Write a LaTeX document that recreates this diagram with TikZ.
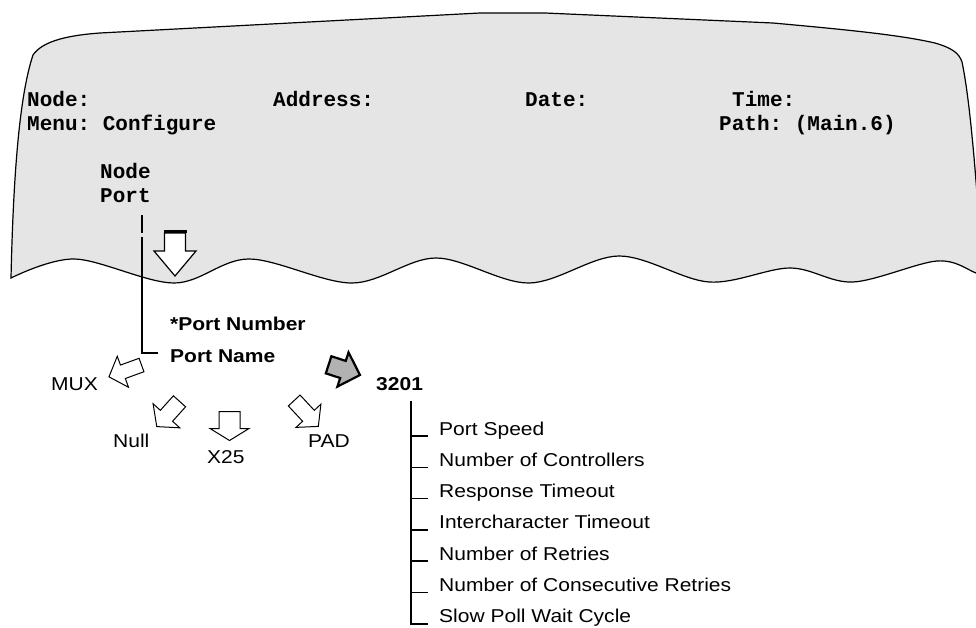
\documentclass[tikz,border=0pt]{standalone}
\usepackage{fontspec}
\setmainfont{Liberation Sans}
\newfontfamily\scrfont{Liberation Mono}
\newfontfamily\lblfont[FakeStretch=1.13]{Liberation Sans}
\usetikzlibrary{calc}
\newcommand\blockarr[8]{%
  \begin{scope}[shift={(#1,#2)}, rotate=#3]
    \draw[#8] (0,{-#7/2}) -- ({#4-#5},{-#7/2}) -- ({#4-#5},{-#6/2}) -- (#4,0)
      -- ({#4-#5},{#6/2}) -- ({#4-#5},{#7/2}) -- (0,{#7/2}) -- cycle;
  \end{scope}}
\begin{document}
\frenchspacing
\begin{tikzpicture}[x=1pt,y=-1pt,
  scr/.style={anchor=base west, inner sep=0pt, font=\scrfont\bfseries\fontsize{21}{25}\selectfont},
  lbl/.style={anchor=base west, inner sep=0pt, font=\lblfont\fontsize{18.6}{22}\selectfont},
  lblb/.style={anchor=base west, inner sep=0pt, font=\lblfont\bfseries\fontsize{18.6}{22}\selectfont},
  conn/.style={line width=1.5pt},
  hollow/.style={draw, fill=white, line width=1pt, line join=miter},
  solidarr/.style={draw, fill=black!30, line width=2.2pt, line join=miter},
]
\clip (0,0) rectangle (976,627);
\fill[white] (0,0) rectangle (976,627);

% screen shape
\draw[fill=black!10, line width=1.2pt]
  (33,55) .. controls (43,40) and (72,35) .. (100,33)
  -- (480,13) -- (545,13) -- (773,23)
  .. controls (850,30) and (900,35) .. (935,43)
  .. controls (952,48) and (959,53) .. (962,62)
  .. controls (970,100) and (977,180) .. (984,300)
  -- (995,300) -- (995,282)
  -- plot[smooth, tension=0.55] coordinates {(995,282) (976,273) (937,261) (853,282) (790,268) (709,282) (619,256) (529,283) (436,258) (352,283) (249,259) (174,283) (75,259) (11,278)}
  .. controls (13,190) and (18,100) .. (33,55) -- cycle;

% screen text
\node[scr] (nodelbl) at (27,106) {Node:};
\node[scr] (addr) at (273,106) {Address:};
\node[scr] (date) at (525,106) {Date:};
\node[scr] (time) at (732,106) {Time:};
\node[scr] (menu) at (27,130) {Menu: Configure};
\node[scr] (path) at (719,130) {Path: (Main.6)};
\node[scr] (node) at (100,178) {Node};
\node[scr] (port) at (100,202) {Port};

% big down arrow
\blockarr{175}{233}{-90}{43}{25}{42}{21}{hollow, line width=1.2pt}
\draw[line width=3pt] (164,231.5) -- (187,231.5);

% labels below
\node[lblb] (pnum) at (170,330) {*Port Number};
\node[lblb] (pname) at (170,362) {Port Name};
\node[lbl] (mux) at (51,390) {MUX};
\node[lbl] (null) at (113,447) {Null};
\node[lbl] (x25) at (207,463) {X25};
\node[lbl] (pad) at (308,447) {PAD};
\node[lblb] (n3201) at (376,390) {3201};

% connector from Port
\draw[conn] ($(port.base west)+(42,13)$) -- ++(0,18);
\draw[conn] ($(port.base west)+(42,35)$) |- ($(pname.base west)+(-12,-9)$);

% small arrows
\blockarr{141.5}{365}{200}{34.6}{14.8}{33}{14.3}{hollow}
\blockarr{179.5}{401.3}{228}{34}{14.5}{36}{16.4}{hollow}
\blockarr{229.5}{411.5}{-90}{29}{12}{39}{21}{hollow}
\blockarr{294.2}{400.5}{-47}{35.4}{14.5}{34}{16}{hollow}
\blockarr{328.6}{364.8}{-18}{33}{17.9}{36}{18}{solidarr}

% tree under 3201
\foreach \t [count=\i from 0] in {Port Speed, Number of Controllers, Response Timeout, Intercharacter Timeout, Number of Retries, Number of Consecutive Retries, Slow Poll Wait Cycle} {
  \node[lbl] (it\i) at (439, {435+31.3*\i}) {\t};
  \draw[conn] ($(it\i.base west)+(-28,1)$) -- ($(it\i.base west)+(-11,1)$);
}
\draw[conn] ($(n3201.base west)+(35,11)$) |- ($(it6.base west)+(-11,1)$);
\end{tikzpicture}
\end{document}
